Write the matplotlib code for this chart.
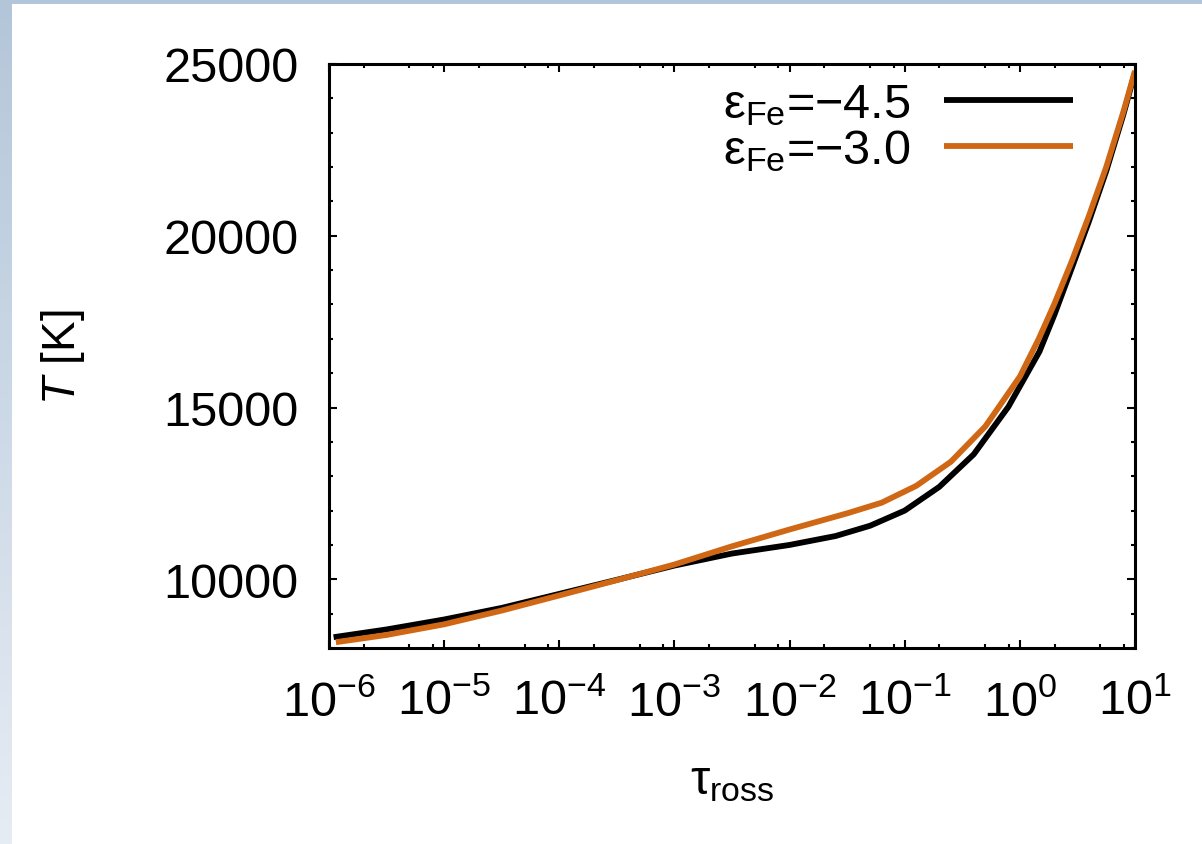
import numpy as np
import matplotlib
matplotlib.use("Agg")
import matplotlib.pyplot as plt
from matplotlib.colors import LinearSegmentedColormap
from matplotlib.patches import Rectangle
from matplotlib.ticker import LogLocator, LogFormatterMathtext, MultipleLocator, NullFormatter

plt.rcParams['font.family'] = 'Liberation Sans'
plt.rcParams['mathtext.fontset'] = 'custom'
plt.rcParams['mathtext.rm'] = 'Liberation Sans'
plt.rcParams['mathtext.it'] = 'Liberation Sans:italic'
plt.rcParams['mathtext.sf'] = 'Liberation Sans'

# log10(tau_ross) and T [K]
logtau_fe45 = [-5.96, -5.5, -5.0, -4.5, -4.0, -3.5, -3.0, -2.5, -2.0, -1.6, -1.3,
               -1.0, -0.7, -0.4, -0.1, 0.17, 0.3, 0.45, 0.6, 0.75, 0.9, 1.0]
temp_fe45 = [8314, 8540, 8830, 9167, 9575, 9985, 10400, 10750, 11000, 11260, 11560,
             12000, 12690, 13640, 15020, 16628, 17700, 19050, 20420, 21880, 23540, 24760]

logtau_fe30 = [-5.94, -5.5, -5.0, -4.5, -4.0, -3.5, -3.0, -2.5, -2.0, -1.5, -1.2,
               -0.9, -0.6, -0.3, 0.0, 0.165, 0.3, 0.45, 0.6, 0.75, 0.9, 1.0]
temp_fe30 = [8169, 8380, 8690, 9090, 9530, 9975, 10430, 10960, 11450, 11920, 12230,
             12720, 13420, 14450, 15900, 17006, 18020, 19250, 20580, 22000, 23620, 24800]

labels = ['ε$_{\\rm Fe}$=−4.5', 'ε$_{\\rm Fe}$=−3.0']
colors = ['black', '#cf6714']

W, H = 1202, 845
fig = plt.figure(figsize=(W / 100, H / 100), dpi=100)

# slide background: bluish strips on left and top
bg = fig.add_axes([0, 0, 1, 1], zorder=-10)
bg.axis('off')
cmap = LinearSegmentedColormap.from_list('bg', ['#b3c6d9', '#e6ecf4'])
bg.imshow(np.linspace(0, 1, 256).reshape(-1, 1), cmap=cmap, aspect='auto',
          extent=[0, 1, 0, 1], origin='upper')
bg.add_patch(Rectangle((12 / W, 0), 1, 1 - 5 / H, color='white', lw=0))
bg.set_xlim(0, 1)
bg.set_ylim(0, 1)

left, right, bottom, top = 329 / W, 1135 / W, 1 - 649 / H, 1 - 65 / H
ax = fig.add_axes([left, bottom, right - left, top - bottom])

for lt, t, lab, c in zip([logtau_fe45, logtau_fe30], [temp_fe45, temp_fe30], labels, colors):
    ax.plot(10 ** np.array(lt), t, color=c, lw=4.2, label=lab, solid_capstyle='butt')

ax.set_xscale('log')
ax.set_xlim(1e-6, 1e1)
ax.set_ylim(8000, 25000)

ax.xaxis.set_major_locator(LogLocator(base=10, numticks=20))
ax.xaxis.set_major_formatter(LogFormatterMathtext())
ax.xaxis.set_minor_locator(LogLocator(base=10, subs=(2, 5, 8), numticks=20))
ax.xaxis.set_minor_formatter(NullFormatter())
ax.yaxis.set_major_locator(MultipleLocator(5000))
ax.yaxis.set_minor_locator(MultipleLocator(1000))

ax.tick_params(which='both', direction='in', top=True, right=True, width=1.5,
               labelsize=35)
ax.tick_params(which='major', length=6)
ax.tick_params(which='minor', length=3)
ax.tick_params(axis='y', pad=22)
ax.tick_params(axis='x', pad=22)
for s in ax.spines.values():
    s.set_linewidth(2.2)

ax.set_xlabel('τ$_{\\rm ross}$', fontsize=35, labelpad=24)
ax.set_ylabel('$T$ [K]', fontsize=33, labelpad=55)

ax.legend(loc='upper right', bbox_to_anchor=(1073 / W, 1 - 83 / H),
          bbox_transform=fig.transFigure, frameon=False, markerfirst=False,
          fontsize=35, handlelength=2.65, handletextpad=0.7, labelspacing=0.0,
          borderpad=0, borderaxespad=0)

fig.savefig('out.png', dpi=100)
